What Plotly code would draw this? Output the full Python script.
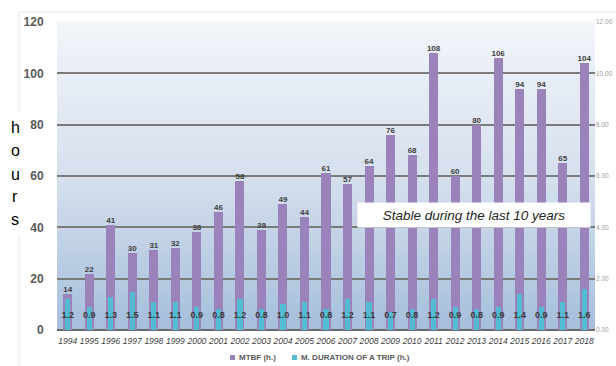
import plotly.graph_objects as go

years = list(range(1994, 2019))
mtbf = [14, 22, 41, 30, 31, 32, 38, 46, 58, 39, 49, 44, 61, 57, 64, 76, 68, 108, 60, 80, 106, 94, 94, 65, 104]
trip = [1.2, 0.9, 1.3, 1.5, 1.1, 1.1, 0.9, 0.8, 1.2, 0.8, 1.0, 1.1, 0.8, 1.2, 1.1, 0.7, 0.8, 1.2, 0.9, 0.8, 0.9, 1.4, 0.9, 1.1, 1.6]
trip_labels = ["%.1f" % v for v in trip]
mtbf_labels = [str(v) for v in mtbf]
series_names = ["MTBF (h.)", "M. DURATION OF A TRIP (h.)"]

purple = "#9a83bb"
cyan = "#52bcd2"

# plot area geometry in pixels (for converting annotation positions)
L, R, T, B = 57, 21, 22, 36
W, H = 616, 366
PW, PH = W - L - R, H - T - B


def px(xp):
    return (xp - L) / PW


def py(yp):
    return (H - B - yp) / PH


fig = go.Figure()

fig.add_trace(go.Bar(
    x=years, y=mtbf, name=series_names[0], marker=dict(color=purple, line=dict(width=0)),
    width=0.42, yaxis="y", showlegend=False,
))
fig.add_trace(go.Bar(
    x=years, y=trip, name=series_names[1], marker=dict(color=cyan, line=dict(width=0)),
    width=0.24, yaxis="y2", showlegend=False,
))
fig.add_trace(go.Scatter(
    x=years, y=mtbf, mode="text", text=mtbf_labels, textposition="top center",
    textfont=dict(size=8, color="#404040", family="Liberation Sans", weight="bold"),
    yaxis="y", showlegend=False, hoverinfo="skip", cliponaxis=False,
))
fig.add_trace(go.Scatter(
    x=years, y=[0.55] * len(years), mode="text", text=trip_labels,
    textfont=dict(size=9, color="#3a3a3a", family="Liberation Sans", weight="bold"),
    yaxis="y2", showlegend=False, hoverinfo="skip", cliponaxis=False,
))

# Gradient background of the plot area (horizontal bands)
shapes = []
n = 60
top = (243, 246, 251)
mid = (214, 224, 238)
bot = (166, 191, 220)
for i in range(n):
    t = (i + 0.5) / n
    if t > 0.5:
        u = (t - 0.5) / 0.5
        c = tuple(int(mid[k] + (top[k] - mid[k]) * u) for k in range(3))
    else:
        u = t / 0.5
        c = tuple(int(bot[k] + (mid[k] - bot[k]) * u) for k in range(3))
    shapes.append(dict(type="rect", xref="paper", yref="paper", x0=0, x1=1,
                       y0=i / n, y1=(i + 1) / n + 0.002, fillcolor="rgb(%d,%d,%d)" % c,
                       line=dict(width=0), layer="below"))

# faint outer frame
shapes.append(dict(type="line", xref="paper", yref="paper", x0=px(19), x1=px(616), y0=py(12), y1=py(12),
                   line=dict(color="#e8e8e8", width=1)))
shapes.append(dict(type="line", xref="paper", yref="paper", x0=px(19), x1=px(19), y0=py(366), y1=py(12),
                   line=dict(color="#e8e8e8", width=1)))

# legend squares
shapes.append(dict(type="rect", xref="paper", yref="paper", x0=px(230), x1=px(235), y0=py(360), y1=py(355),
                   fillcolor=purple, line=dict(width=0)))
shapes.append(dict(type="rect", xref="paper", yref="paper", x0=px(292), x1=px(297), y0=py(360), y1=py(355),
                   fillcolor=cyan, line=dict(width=0)))

annotations = [
    dict(text="", xref="paper", yref="paper", x=px(16), y=py(173),
         xanchor="center", yanchor="middle", showarrow=False,
         bgcolor="white", width=22, height=120),
]
letters = ["h", "o", "u", "r", "s"]
letter_px = [127, 151, 174, 197, 219]
for ch, yy in zip(letters, letter_px):
    annotations.append(dict(text=ch, xref="paper", yref="paper", x=px(15), y=py(yy),
                            xanchor="center", yanchor="middle", showarrow=False,
                            font=dict(size=16, color="#000000", family="Liberation Sans")))
annotations.append(dict(text="<i>Stable during the last 10 years</i>", xref="paper", yref="paper",
                        x=px(474), y=py(215), xanchor="center", yanchor="middle", showarrow=False,
                        width=230, height=22, bgcolor="white",
                        font=dict(size=13.5, color="#262626", family="Liberation Sans")))
annotations.append(dict(text="<b>" + series_names[0] + "</b>", xref="paper", yref="paper",
                        x=px(237), y=py(357.5), xanchor="left", yanchor="middle", showarrow=False,
                        font=dict(size=8, color="#595959", family="Liberation Sans")))
annotations.append(dict(text="<b>" + series_names[1] + "</b>", xref="paper", yref="paper",
                        x=px(299), y=py(357.5), xanchor="left", yanchor="middle", showarrow=False,
                        font=dict(size=8, color="#595959", family="Liberation Sans")))

fig.update_layout(
    width=W, height=H,
    margin=dict(l=L, r=R, t=T, b=B),
    paper_bgcolor="white",
    plot_bgcolor="rgba(0,0,0,0)",
    barmode="overlay",
    bargap=0,
    showlegend=False,
    font=dict(family="Liberation Sans", color="#595959"),
    shapes=shapes,
    xaxis=dict(
        range=[1993.5, 2018.5], tickmode="array", tickvals=years, ticktext=[str(y) for y in years],
        tickangle=0, automargin=False,
        tickfont=dict(size=8.5, color="#404040", family="Liberation Sans", style="italic"),
        showgrid=False, zeroline=False, showline=False, ticks="outside", ticklen=3,
        tickcolor="rgba(0,0,0,0)",
    ),
    yaxis=dict(
        range=[0, 120], dtick=20, showgrid=True, gridcolor="#7a7a7a", gridwidth=1.5,
        zeroline=True, zerolinecolor="#6a6a6a", zerolinewidth=1.5, automargin=False,
        tickfont=dict(size=12, color="#595959", family="Liberation Sans", weight="bold"),
        ticks="outside", ticklen=10, tickcolor="rgba(0,0,0,0)",
        showline=False,
    ),
    yaxis2=dict(
        range=[0, 12], dtick=2, tickformat=".2f", overlaying="y", side="right",
        showgrid=False, zeroline=False, showline=False, automargin=False,
        tickfont=dict(size=6.5, color="#a0a0a0", family="Liberation Sans"),
    ),
    annotations=annotations,
)

fig.write_html("out.html")
